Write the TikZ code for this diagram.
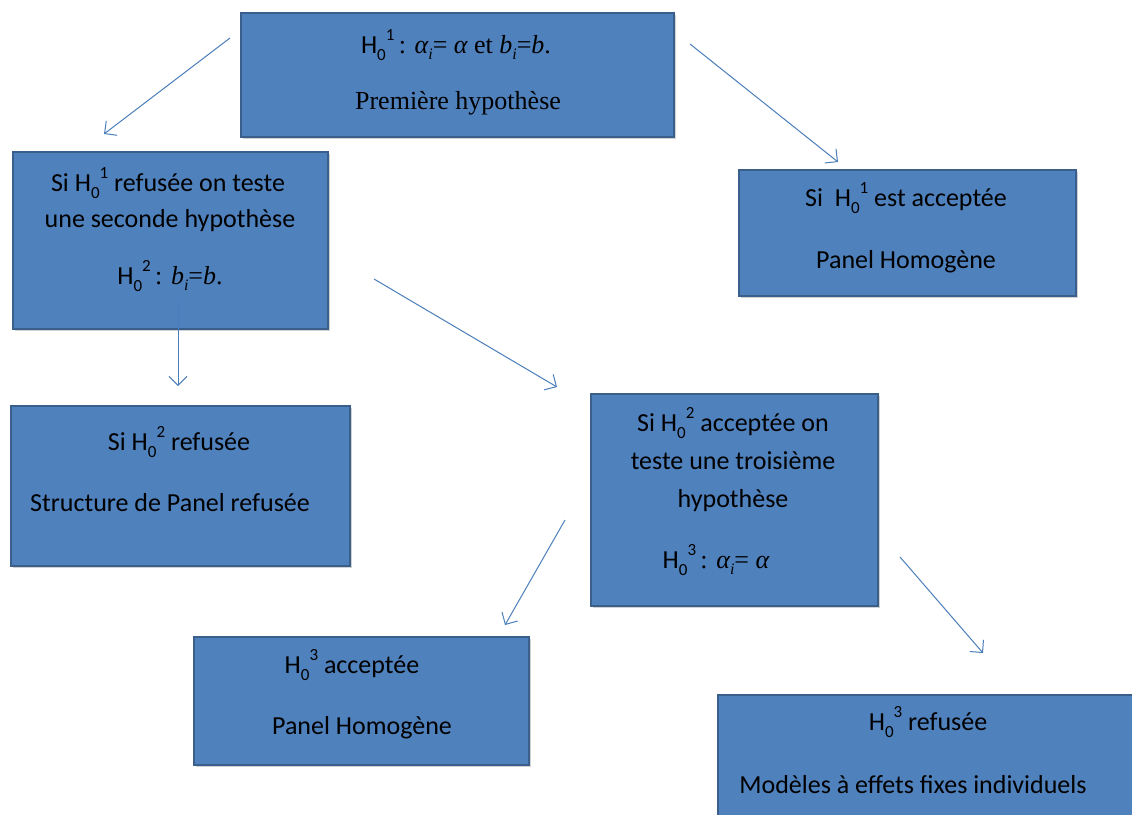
\documentclass[tikz,border=0pt]{standalone}
\usepackage{fontspec}
\setmainfont{Carlito}
\newfontfamily\tms{Liberation Serif}
\usetikzlibrary{arrows.meta,shadows}
\definecolor{boxfill}{HTML}{4F81BD}
\definecolor{boxline}{HTML}{3A5F8C}
\definecolor{arr}{HTML}{4A7EBB}
\newcommand{\Hz}[1]{H\raisebox{-0.28em}{\fontsize{17}{17}\selectfont 0}\raisebox{0.5em}{\fontsize{17}{17}\selectfont #1}}
\newcommand{\tmi}[1]{{\tms\itshape #1}}
\newcommand{\tmsub}[1]{\raisebox{-0.25em}{\fontsize{16}{16}\selectfont\tms\itshape #1}}
\begin{document}
\begin{tikzpicture}[x=1pt,y=-1pt,
  box/.style={draw=boxline, line width=1.6pt, fill=boxfill, inner sep=0pt,
    drop shadow={shadow xshift=2pt, shadow yshift=-2.5pt, opacity=0.35}},
  txt/.style={font=\fontsize{26}{30}\selectfont, text=black, inner sep=0pt, anchor=base},
  conn/.style={draw=arr, line width=1pt, -{Straight Barb[length=9pt,width=18pt,line width=1pt]}}]
\useasboundingbox (0,0) rectangle (1132,814);
\fill[white] (0,0) rectangle (1132,814);
% boxes
\node[box, minimum width=433pt, minimum height=124pt, anchor=north west] (b1) at (240,12) {};
\node[box, minimum width=315pt, minimum height=177pt, anchor=north west] (b2) at (12,151) {};
\node[box, minimum width=337pt, minimum height=126pt, anchor=north west] (b3) at (738,169) {};
\node[box, minimum width=339pt, minimum height=160pt, anchor=north west] (b4) at (10,405) {};
\node[box, minimum width=287pt, minimum height=212pt, anchor=north west] (b5) at (590,393) {};
\node[box, minimum width=335pt, minimum height=128pt, anchor=north west] (b6) at (193,636) {};
\node[box, minimum width=430pt, minimum height=130pt, anchor=north west] (b7) at (717,694) {};
% texts
\node[txt] (t1a) at (456,53) {\Hz{1}\,\tms: \tmi{α}\tmsub{i}\tms= \tmi{α} et \tmi{b}\tmsub{i}\tms=\tmi{b}.};
\node[txt] (t1b) at (458,109) {\tms Première hypothèse};
\node[txt] (t2a) at (168,191) {Si \Hz{1} refusée on teste};
\node[txt] (t2b) at (170,227) {une seconde hypothèse};
\node[txt] (t2c) at (170,284) {\Hz{2}\,\tms: \tmi{b}\tmsub{i}\tms=\tmi{b}.};
\node[txt] (t3a) at (906,206) {Si \ \Hz{1} est acceptée};
\node[txt] (t3b) at (906,268) {Panel Homogène};
\node[txt] (t4a) at (179,450) {Si \Hz{2} refusée};
\node[txt] (t4b) at (170,511) {Structure de Panel refusée};
\node[txt] (t5a) at (733,431) {Si \Hz{2} acceptée on};
\node[txt] (t5b) at (733,469) {teste une troisième};
\node[txt] (t5c) at (733,507) {hypothèse};
\node[txt] (t5d) at (716,568) {\Hz{3}\,\tms: \tmi{α}\tmsub{i}\tms= \tmi{α}};
\node[txt] (t6a) at (352,673) {\Hz{3} acceptée};
\node[txt] (t6b) at (362,734) {Panel Homogène};
\node[txt] (t7a) at (928,730) {\Hz{3} refusée};
\node[txt] (t7b) at (913,793) {Modèles à effets fixes individuels};
% connector endpoints
\coordinate (a1s) at (230,38);  \coordinate (a1e) at (104,134);
\coordinate (a2s) at (690,44);  \coordinate (a2e) at (838,162);
\coordinate (a3s) at (178,300); \coordinate (a3e) at (178,386);
\coordinate (a4s) at (374,279); \coordinate (a4e) at (557,387);
\coordinate (a5s) at (565,520); \coordinate (a5e) at (505,625);
\coordinate (a6s) at (900,557); \coordinate (a6e) at (983,653);
\draw[conn] (a1s) -- (a1e);
\draw[conn] (a2s) -- (a2e);
\draw[conn] (a3s) -- (a3e);
\draw[conn] (a4s) -- (a4e);
\draw[conn] (a5s) -- (a5e);
\draw[conn] (a6s) -- (a6e);
\end{tikzpicture}
\end{document}
